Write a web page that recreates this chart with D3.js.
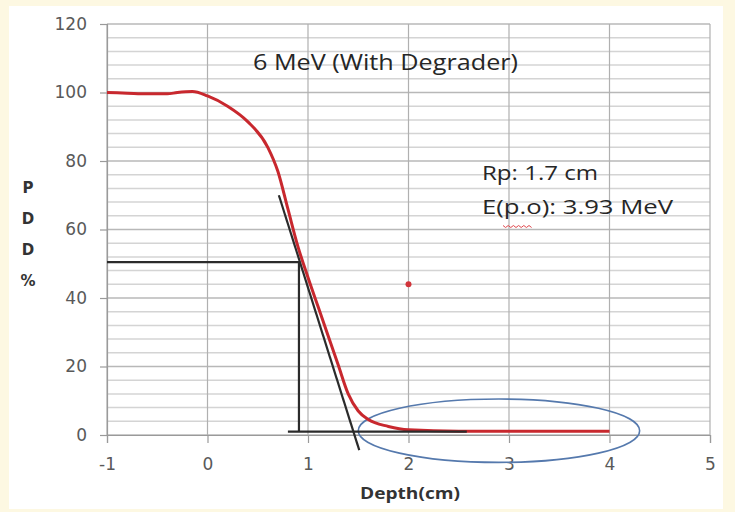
<!DOCTYPE html>
<html>
<head>
<meta charset="utf-8">
<script src="https://cdn.jsdelivr.net/npm/d3@7"></script>
<style>
  body { margin: 0; background: #fdf8e2; }
  svg { display: block; }
</style>
</head>
<body>
<div id="chart"></div>
<script>
	// depth (cm) vs PDD (%)
	var depth = [-1, -0.8, -0.6, -0.4, -0.3, -0.15, 0, 0.2, 0.4, 0.6, 0.7, 0.8, 0.9, 1.0, 1.1, 1.2, 1.3, 1.4, 1.5, 1.6, 1.8, 2.0, 2.5, 3, 3.5, 4];
	var pdd   = [100, 99.8, 99.6, 99.6, 100, 100.3, 99, 96, 91.5, 84, 77, 66, 55, 46, 37.5, 29, 20.5, 12, 7, 4.5, 2.5, 1.5, 1.1, 1.1, 1.1, 1.1];

	// construction lines drawn over the curve
	var tangent = [[0.71, 70], [1.51, -4.4]];
	var halfLevel = [[-1, 50.5], [0.91, 50.5], [0.91, 0.9]];
	var baseLine = [[0.8, 1], [2.58, 1]];

	var strayPoint = [2, 44];
	var ellipseX = [1.5, 4.3];
	var ellipseY = [-8, 10.5];

	var xTicks = [-1, 0, 1, 2, 3, 4, 5];
	var yTicks = [0, 20, 40, 60, 80, 100, 120];
	var minorY = d3.range(0, 121, 4);

	var title = "6 MeV (With Degrader)";
	var notes = ["Rp: 1.7 cm", "E(p.o): 3.93 MeV"];
	var yTitle = ["P", "D", "D", "%"];
	var xTitle = "Depth(cm)";

	var WIDTH = 735, HEIGHT = 512;
	var FONT = "'Open Sans', 'Noto Sans', sans-serif";
	var TICKFONT = "'DejaVu Sans', sans-serif";

	var svg = d3.select("#chart").append("svg")
		.attr("width", WIDTH)
		.attr("height", HEIGHT);

	svg.append("rect")
		.attr("x", 9).attr("y", 6)
		.attr("width", 714).attr("height", 503)
		.attr("fill", "#fff");

	var x = d3.scaleLinear().domain([-1, 5]).range([107, 710]);
	var y = d3.scaleLinear().domain([0, 120]).range([435, 24]);

	// minor horizontal grid
	svg.append("g").selectAll("line")
		.data(minorY.filter(function(d){ return d % 20 != 0; }))
		.enter().append("line")
		.attr("x1", x(-1)).attr("x2", x(5))
		.attr("y1", function(d){ return y(d); })
		.attr("y2", function(d){ return y(d); })
		.attr("stroke", "#d4d4d4")
		.attr("stroke-width", 1.5);

	// major horizontal grid
	svg.append("g").selectAll("line")
		.data(yTicks)
		.enter().append("line")
		.attr("x1", x(-1)).attr("x2", x(5))
		.attr("y1", function(d){ return y(d); })
		.attr("y2", function(d){ return y(d); })
		.attr("stroke", "#b8b8b8")
		.attr("stroke-width", 1.5);

	// vertical grid
	svg.append("g").selectAll("line")
		.data(xTicks)
		.enter().append("line")
		.attr("x1", function(d){ return x(d); })
		.attr("x2", function(d){ return x(d); })
		.attr("y1", y(120)).attr("y2", y(0))
		.attr("stroke", "#b0b0b0")
		.attr("stroke-width", 1.2);

	// axes
	var yAxis = d3.axisLeft(y).tickValues(yTicks).tickSize(7).tickPadding(13);
	var gy = svg.append("g").attr("transform", "translate(" + x(-1) + ",0)").call(yAxis);
	var xAxis = d3.axisBottom(x).tickValues(xTicks).tickSize(8).tickPadding(15)
		.tickFormat(function(d){ return d; });
	var gx = svg.append("g").attr("transform", "translate(0," + y(0) + ")").call(xAxis);

	[gy, gx].forEach(function(g){
		g.select(".domain").attr("stroke", "#9a9a9a").attr("stroke-width", 1.2);
		g.selectAll(".tick line").attr("stroke", "#9a9a9a").attr("stroke-width", 1.2);
		g.selectAll(".tick text")
			.attr("fill", "#595959")
			.style("font-family", TICKFONT)
			.style("font-size", "17px");
	});

	// ellipse annotation
	svg.append("ellipse")
		.attr("cx", x((ellipseX[0] + ellipseX[1]) / 2))
		.attr("cy", y((ellipseY[0] + ellipseY[1]) / 2))
		.attr("rx", (x(ellipseX[1]) - x(ellipseX[0])) / 2)
		.attr("ry", (y(ellipseY[0]) - y(ellipseY[1])) / 2)
		.attr("fill", "none")
		.attr("stroke", "#5579ad")
		.attr("stroke-width", 1.6);

	var line = d3.line()
		.x(function(d){ return x(d[0]); })
		.y(function(d){ return y(d[1]); });

	var curve = depth.map(function(d, i){ return [d, pdd[i]]; });

	svg.append("path")
		.datum(curve)
		.attr("d", line.curve(d3.curveMonotoneX))
		.attr("fill", "none")
		.attr("stroke", "#c8282e")
		.attr("stroke-width", 3);

	line.curve(d3.curveLinear);
	[tangent, halfLevel, baseLine].forEach(function(seg){
		svg.append("path")
			.datum(seg)
			.attr("d", line)
			.attr("fill", "none")
			.attr("stroke", "#2b2b2b")
			.attr("stroke-width", 2.2);
	});

	svg.append("circle")
		.attr("cx", x(strayPoint[0]))
		.attr("cy", y(strayPoint[1]))
		.attr("r", 3)
		.attr("fill", "#d2343a");

	// text (the source image is stretched sideways, so widths are fixed)
	svg.append("text")
		.attr("x", 253).attr("y", 70)
		.attr("textLength", 265)
		.attr("lengthAdjust", "spacingAndGlyphs")
		.text(title)
		.style("font-family", FONT)
		.style("font-size", "21px")
		.attr("fill", "#262626");

	var noteWidths = [116, 191];
	svg.selectAll(".note")
		.data(notes)
		.enter().append("text")
		.attr("class", "note")
		.attr("x", 482)
		.attr("y", function(d,i){ return 180 + i * 34; })
		.attr("textLength", function(d,i){ return noteWidths[i]; })
		.attr("lengthAdjust", "spacingAndGlyphs")
		.text(function(d){ return d; })
		.style("font-family", FONT)
		.style("font-size", "20px")
		.attr("fill", "#262626");

	// spell-check squiggle under p.o
	var sq = [];
	for(var i=0; i<=11; i++){
		sq.push([503 + i * 2.6, 226 + (i % 2 ? 1.5 : -0.5)]);
	}
	svg.append("path")
		.attr("d", d3.line()(sq))
		.attr("fill", "none")
		.attr("stroke", "#e0474c")
		.attr("stroke-width", 1);

	svg.selectAll(".ytitle")
		.data(yTitle)
		.enter().append("text")
		.attr("class", "ytitle")
		.attr("x", 28)
		.attr("y", function(d,i){ return 193 + i * 31; })
		.attr("text-anchor", "middle")
		.text(function(d){ return d; })
		.style("font-family", TICKFONT)
		.style("font-size", "15px")
		.style("font-weight", "bold")
		.attr("fill", "#333");

	svg.append("text")
		.attr("x", 360).attr("y", 499)
		.attr("textLength", 100)
		.attr("lengthAdjust", "spacingAndGlyphs")
		.text(xTitle)
		.style("font-family", FONT)
		.style("font-size", "16px")
		.style("font-weight", "bold")
		.attr("fill", "#333");
</script>
</body>
</html>
